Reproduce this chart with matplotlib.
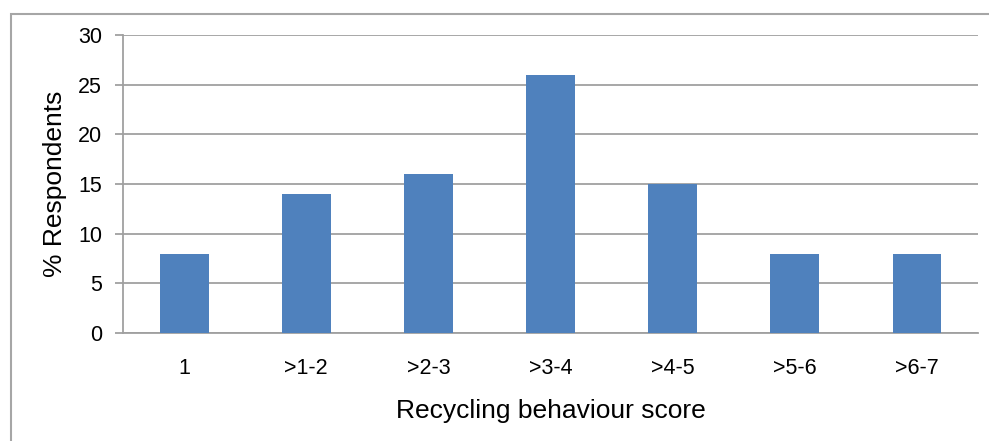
"""Recycling behaviour score distribution"""

import matplotlib.pyplot as plt
from matplotlib.patches import Rectangle

categories = ["1", ">1-2", ">2-3", ">3-4", ">4-5", ">5-6", ">6-7"]
respondents = [8, 14, 16, 26, 15, 8, 8]

plt.rcParams["font.family"] = ["Liberation Sans", "DejaVu Sans"]

W, H = 989, 441
fig = plt.figure(figsize=(W / 100, H / 100), dpi=100)
fig.patch.set_facecolor("white")

# outer chart frame (clipped at right and bottom, like the screenshot)
fig.patches.append(Rectangle((11 / W, -0.1), 1.2, 1 - 14 / H + 0.1,
                             transform=fig.transFigure, fill=False,
                             edgecolor="#a6a6a6", linewidth=1.5))

ax = fig.add_axes([123 / W, (H - 333) / H, (978 - 123) / W, (333 - 35) / H])

x = range(len(categories))
ax.bar(x, respondents, width=0.4, color="#4f81bd", zorder=3)

ax.set_xlim(-0.5, len(categories) - 0.5)
ax.set_ylim(0, 30)
ax.set_yticks(range(0, 31, 5))
ax.set_xticks(list(x))
ax.set_xticklabels(categories)

ax.grid(axis="y", color="#a0a0a0", linewidth=1.3, zorder=0)
for side in ["top", "right"]:
    ax.spines[side].set_visible(False)
for side in ["left", "bottom"]:
    ax.spines[side].set_color("#a0a0a0")
    ax.spines[side].set_linewidth(1.3)

ax.tick_params(axis="y", length=6, width=1.3, color="#a0a0a0", pad=9, labelsize=15.5)
ax.tick_params(axis="x", length=0, pad=18, labelsize=15.5)

ax.set_ylabel("% Respondents", fontsize=19, va="center")
ax.yaxis.set_label_coords(-0.08, 0.5)
ax.set_xlabel("Recycling behaviour score", fontsize=19, va="center")
ax.xaxis.set_label_coords(0.5, -0.262)

fig.savefig("out.png", dpi=100)
